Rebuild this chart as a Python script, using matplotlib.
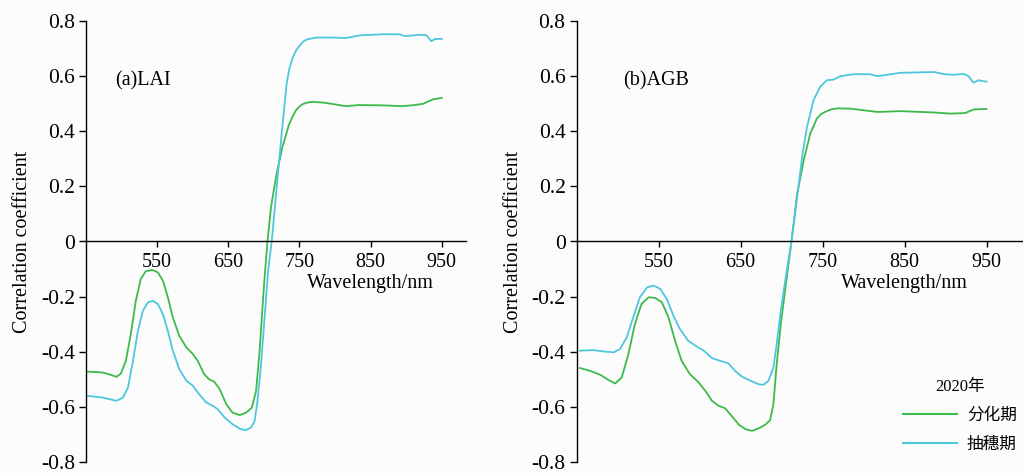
import matplotlib.pyplot as plt
from matplotlib.ticker import FixedLocator, FixedFormatter

plt.rcParams['font.family'] = ['Liberation Serif', 'Noto Sans CJK SC']

# (a) LAI
lai_wl_fen = [452, 473, 485, 493, 499, 506, 513, 520, 527, 534, 543, 551, 558, 565, 572, 581, 591, 600,
              607, 616, 623, 630, 638, 647, 656, 666, 675, 683, 689, 694, 698, 701, 705, 710, 717, 726,
              735, 740, 745, 750, 754, 761, 768, 787, 815, 833, 866, 894, 912, 924, 938, 950]
lai_fen = [-0.472, -0.475, -0.484, -0.491, -0.479, -0.433, -0.336, -0.215, -0.136, -0.108, -0.103, -0.112,
           -0.142, -0.202, -0.275, -0.342, -0.384, -0.408, -0.433, -0.481, -0.5, -0.508, -0.536, -0.59,
           -0.621, -0.63, -0.621, -0.603, -0.542, -0.396, -0.24, -0.13, 0.0, 0.125, 0.234, 0.343, 0.422,
           0.452, 0.476, 0.490, 0.498, 0.504, 0.507, 0.503, 0.491, 0.495, 0.494, 0.491, 0.495, 0.50,
           0.516, 0.521]
lai_wl_chou = [452, 473, 493, 502, 509, 516, 523, 530, 537, 544, 551, 558, 565, 572, 581, 591, 600, 609,
               619, 628, 635, 645, 656, 666, 674, 682, 687, 691, 696, 701, 706, 711, 718, 725, 732, 736,
               741, 746, 751, 755, 760, 774, 797, 815, 835, 868, 891, 898, 919, 928, 935, 941, 950]
lai_chou = [-0.56, -0.566, -0.578, -0.566, -0.53, -0.433, -0.324, -0.251, -0.221, -0.215, -0.227, -0.263,
            -0.324, -0.396, -0.463, -0.505, -0.523, -0.554, -0.584, -0.596, -0.608, -0.639, -0.663,
            -0.679, -0.685, -0.675, -0.651, -0.578, -0.445, -0.275, -0.105, 0.0, 0.198, 0.392, 0.573,
            0.63, 0.67, 0.697, 0.713, 0.725, 0.733, 0.74, 0.74, 0.738, 0.748, 0.752, 0.752, 0.745, 0.75,
            0.749, 0.727, 0.735, 0.735]

# (b) AGB
agb_wl_fen = [454, 466, 479, 489, 497, 505, 513, 521, 529, 538, 546, 554, 562, 570, 578, 588, 599, 607,
              615, 623, 631, 639, 648, 656, 664, 672, 680, 686, 690, 694, 699, 705, 712, 719, 727, 735,
              743, 748, 753, 760, 768, 784, 817, 846, 886, 906, 924, 934, 950]
agb_fen = [-0.459, -0.469, -0.484, -0.503, -0.515, -0.493, -0.409, -0.3, -0.227, -0.202, -0.205, -0.221,
           -0.275, -0.36, -0.433, -0.481, -0.512, -0.542, -0.578, -0.596, -0.605, -0.633, -0.665, -0.681,
           -0.687, -0.678, -0.665, -0.648, -0.59, -0.445, -0.3, -0.16, 0.0, 0.173, 0.295, 0.392, 0.446,
           0.462, 0.47, 0.479, 0.483, 0.482, 0.47, 0.473, 0.468, 0.464, 0.466, 0.479, 0.481]
agb_wl_chou = [454, 470, 483, 495, 503, 511, 519, 527, 536, 544, 552, 560, 568, 576, 586, 597, 605, 615,
               625, 635, 643, 652, 662, 672, 678, 684, 690, 694, 699, 705, 712, 719, 725, 731, 739, 747,
               755, 763, 772, 788, 808, 817, 829, 845, 886, 898, 910, 922, 928, 934, 940, 950]
agb_chou = [-0.396, -0.394, -0.399, -0.402, -0.39, -0.348, -0.275, -0.203, -0.166, -0.16, -0.172, -0.209,
            -0.269, -0.318, -0.36, -0.382, -0.396, -0.423, -0.433, -0.442, -0.469, -0.491, -0.505, -0.518,
            -0.52, -0.505, -0.457, -0.372, -0.251, -0.13, 0.0, 0.161, 0.307, 0.416, 0.513, 0.561, 0.585,
            0.587, 0.6, 0.607, 0.607, 0.6, 0.605, 0.612, 0.615, 0.607, 0.605, 0.608, 0.6, 0.576, 0.585,
            0.58]

yticks = [-0.8, -0.6, -0.4, -0.2, 0, 0.2, 0.4, 0.6, 0.8]
ytick_labels = ['-0.8', '-0.6', '-0.4', '-0.2', '0', '0.2', '0.4', '0.6', '0.8']
xticks = [550, 650, 750, 850, 950]
series_names = ['分化期', '抽穗期']
green = '#3dba4a'
cyan = '#4ec7de'

fig = plt.figure(figsize=(10.23, 4.73), dpi=100, facecolor='#fcfcfc')
ax1 = fig.add_axes([86 / 1023, 11 / 473, 380 / 1023, 441 / 473])
ax2 = fig.add_axes([576.7 / 1023, 11 / 473, 446.3 / 1023, 441 / 473])


def style(ax, xmax, label, label_x):
    ax.set_facecolor('#fcfcfc')
    ax.set_xlim(450, xmax)
    ax.set_ylim(-0.8, 0.8)
    for s in ['top', 'right']:
        ax.spines[s].set_visible(False)
    ax.spines['bottom'].set_position(('data', 0))
    ax.spines['bottom'].set_linewidth(1.0)
    ax.spines['left'].set_linewidth(1.0)
    ax.xaxis.set_major_locator(FixedLocator(xticks))
    ax.yaxis.set_major_locator(FixedLocator(yticks))
    ax.yaxis.set_major_formatter(FixedFormatter(ytick_labels))
    ax.tick_params(axis='x', direction='out', length=4, width=1, labelsize=14.5, pad=4)
    ax.tick_params(axis='y', direction='out', length=5, width=1, labelsize=15.5, pad=3)
    ax.set_ylabel('Correlation coefficient', fontsize=14.5, labelpad=6)
    ax.text(850, -0.153, 'Wavelength/nm', fontsize=14.5, ha='center', va='center')
    ax.text(label_x, 0.865, label, fontsize=14.5, transform=ax.transAxes, ha='left', va='center')


ax1.plot(lai_wl_fen, lai_fen, color=green, lw=1.3)
ax1.plot(lai_wl_chou, lai_chou, color=cyan, lw=1.3)
style(ax1, 984, '(a)LAI', 0.077)

l1, = ax2.plot(agb_wl_fen, agb_fen, color=green, lw=1.3)
l2, = ax2.plot(agb_wl_chou, agb_chou, color=cyan, lw=1.3)
style(ax2, 994.5, '(b)AGB', 0.103)

leg = fig.legend([l1, l2], series_names, title='2020年', frameon=False, fontsize=12,
                 title_fontsize=12, loc='lower right', bbox_to_anchor=(1.002, 0.025),
                 handlelength=3.25, handletextpad=0.6, labelspacing=0.78, borderpad=0)
for line in leg.get_lines():
    line.set_linewidth(1.5)

fig.savefig('out.png', dpi=100, facecolor=fig.get_facecolor())
